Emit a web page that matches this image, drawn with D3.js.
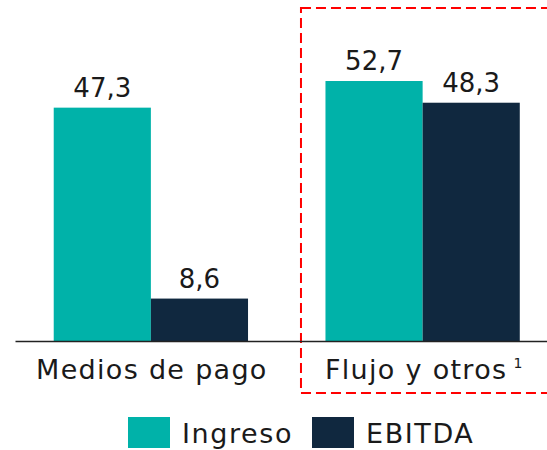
<!DOCTYPE html>
<html><head><meta charset="utf-8">
<script src="https://cdn.jsdelivr.net/npm/d3@7/dist/d3.min.js"></script>
<style>body{margin:0;background:#fff}svg{display:block}</style>
</head><body>
<svg id="c" width="547" height="450"></svg>
<script>
const categories = ["Medios de pago", "Flujo y otros"];
const categoryNotes = ["", "1"];
const seriesNames = ["Ingreso", "EBITDA"];
const ingreso = [47.3, 52.7];
const ebitda = [8.6, 48.3];
const valueLabels = [["47,3", "8,6"], ["52,7", "48,3"]];
const colors = ["#00B2A9", "#10283F"];

const FONT = "'DejaVu Sans', sans-serif";
const svg = d3.select("#c");
const base = 341;
const x0 = d3.scaleBand().domain(categories).range([15, 558.5]).paddingInner(0.285).paddingOuter(0.1425);
const x1 = d3.scaleBand().domain(seriesNames).range([0, x0.bandwidth()]).padding(0);
const y = d3.scaleLinear().domain([0, 67.5]).range([base, 8]);

const data = categories.map((c, i) => ({cat: c, vals: [ingreso[i], ebitda[i]], labels: valueLabels[i]}));

// highlight box
svg.append("rect").attr("x", x0(categories[1]) - 24.5).attr("y", 8)
  .attr("width", 300).attr("height", 385)
  .attr("fill", "none").attr("stroke", "#FF0000").attr("stroke-width", 2)
  .attr("stroke-dasharray", "10,5");

const g = svg.selectAll("g.grp").data(data).join("g").attr("class", "grp")
  .attr("transform", d => `translate(${x0(d.cat)},0)`);
g.selectAll("rect").data(d => d.vals.map((v, j) => ({v, s: seriesNames[j], j, lab: d.labels[j]})))
  .join("rect")
  .attr("x", d => x1(d.s)).attr("width", x1.bandwidth())
  .attr("y", d => y(d.v)).attr("height", d => base - y(d.v))
  .attr("fill", d => colors[d.j]);
g.selectAll("text.val").data(d => d.vals.map((v, j) => ({v, s: seriesNames[j], lab: d.labels[j]})))
  .join("text").attr("class", "val")
  .attr("x", d => x1(d.s) + x1.bandwidth() / 2).attr("y", d => y(d.v) - 11)
  .attr("text-anchor", "middle").attr("font-family", FONT).attr("font-size", 26)
  .attr("fill", "#1a1a1a").text(d => d.lab);

// axis
const ax = svg.append("g").attr("transform", `translate(0,${base})`)
  .call(d3.axisBottom(x0).tickSize(0).tickPadding(0).tickFormat(""));
ax.select(".domain").attr("stroke", "#222").attr("stroke-width", 1.5);
categories.forEach((c, i) => {
  const t = svg.append("text").attr("x", x0(c) + x0.bandwidth() / 2 + 1).attr("y", 379)
    .attr("text-anchor", "middle").attr("font-family", FONT).attr("font-size", 27)
    .attr("letter-spacing", 1.3).attr("fill", "#1a1a1a").text(c);
  if (categoryNotes[i]) {
    t.append("tspan").attr("font-size", 14).attr("letter-spacing", 0).attr("dx", 6).attr("dy", -11).text(categoryNotes[i]);
  }
});

// legend
const legX = [128, 312];
seriesNames.forEach((s, i) => {
  svg.append("rect").attr("x", legX[i]).attr("y", 417).attr("width", 42).attr("height", 31).attr("fill", colors[i]);
  svg.append("text").attr("x", legX[i] + 54).attr("y", 443).attr("font-family", FONT).attr("font-size", 27)
    .attr("letter-spacing", 1.6).attr("fill", "#1a1a1a").text(s);
});
</script>
</body></html>
